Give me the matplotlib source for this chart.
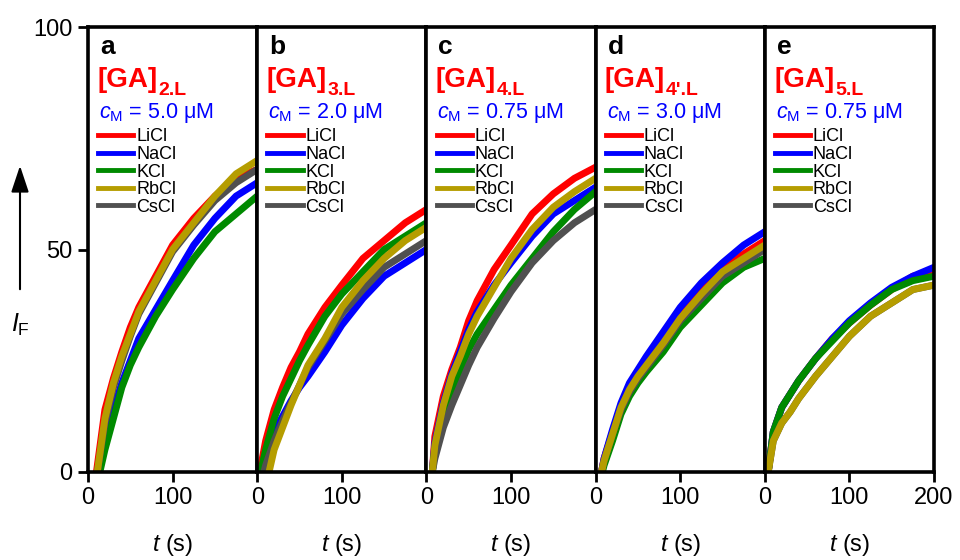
import matplotlib
import numpy as np

matplotlib.use("Agg")
import matplotlib.pyplot as plt
from matplotlib.patches import FancyArrowPatch

plt.rcParams["font.family"] = ["Liberation Sans", "DejaVu Sans"]
plt.rcParams["mathtext.fontset"] = "custom"
plt.rcParams["mathtext.rm"] = "Liberation Sans"
plt.rcParams["mathtext.it"] = "Liberation Sans:italic"
plt.rcParams["mathtext.bf"] = "Liberation Sans:bold"

SALTS = ["LiCl", "NaCl", "KCl", "RbCl", "CsCl"]
COLORS = {"LiCl": "#ff0000", "NaCl": "#0000ff", "KCl": "#008a00",
          "RbCl": "#b59d00", "CsCl": "#505050"}
PANEL_LETTERS = ["a", "b", "c", "d", "e"]
LIGANDS = ["2.L", "3.L", "4.L", "4'.L", "5.L"]
CONC = ["5.0", "2.0", "0.75", "3.0", "0.75"]

T_GRID = [10, 20, 30, 40, 50, 60, 80, 100, 125, 150, 175, 200]

# time where each trace leaves zero, per panel and salt
T_START = [
    {"LiCl": 10, "NaCl": 13, "KCl": 14, "RbCl": 11, "CsCl": 11},
    {"LiCl": 3, "NaCl": 5, "KCl": 4, "RbCl": 14, "CsCl": 8},
    {"LiCl": 7, "NaCl": 7, "KCl": 7, "RbCl": 7, "CsCl": 7},
    {"LiCl": 7, "NaCl": 7, "KCl": 8, "RbCl": 7, "CsCl": 7},
    {"LiCl": 4, "NaCl": 4, "KCl": 4, "RbCl": 4, "CsCl": 4},
]
# signal read at T_GRID (None = before the trace starts)
VALUES = [
    {
        "LiCl": [None, 14, 21, 27, 32.5, 37, 44, 51, 57, 62, 66, 68],
        "NaCl": [None, 7, 14, 20, 25, 30, 36.5, 43, 51, 57, 62, 65],
        "KCl": [None, 5, 12, 19, 24, 28, 35, 41, 48, 54, 58, 62],
        "RbCl": [None, 12, 20, 26, 31, 36, 43, 50, 56, 62, 67, 70],
        "CsCl": [None, 11, 19, 25, 30.5, 35.5, 42.5, 49.5, 55.5, 61, 65, 68],
    },
    {
        "LiCl": [7, 14, 19, 23.5, 27, 31, 37, 42, 48, 52, 56, 59],
        "NaCl": [3.5, 9, 12.5, 16, 19, 21.5, 27, 33, 39, 44, 47, 50],
        "KCl": [5, 12, 17, 21, 25, 28.5, 35, 40, 45, 50, 53, 56],
        "RbCl": [None, 5, 10, 15, 19.5, 24, 30, 37, 43, 48, 52, 55],
        "CsCl": [1.5, 7, 11.5, 15.5, 19.5, 23.5, 29.5, 35.5, 41, 46, 49, 52],
    },
    {
        "LiCl": [8, 17, 23, 28, 34, 38.5, 45.5, 51, 58, 62.5, 66, 68.5],
        "NaCl": [6.5, 15.5, 22, 27, 32, 36, 42, 47, 53, 58, 61, 64],
        "KCl": [5, 12.5, 18.5, 23, 27.5, 31, 36.5, 42, 48, 54, 59, 63],
        "RbCl": [6, 15, 21.5, 26, 31, 35, 41.5, 48, 54.5, 59.5, 63, 66],
        "CsCl": [3, 10, 15, 19.5, 24, 28, 34.5, 40.5, 47, 52, 56, 59],
    },
    {
        "LiCl": [3, 9, 15, 19, 22, 24.5, 30, 35.5, 41, 46, 49, 52],
        "NaCl": [3, 9.5, 15.5, 20, 23, 26, 31.5, 37, 42.5, 47, 51, 54],
        "KCl": [1.5, 7, 13, 17, 20, 22.5, 27, 32.5, 37.5, 42.5, 46, 48],
        "RbCl": [2.5, 8.5, 14.5, 18.5, 21.5, 24, 29, 34.5, 40, 45, 48, 51],
        "CsCl": [2.5, 8.5, 14, 18, 21, 23.5, 28.5, 34, 39, 44, 47, 50],
    },
    {
        "LiCl": [9, 14.5, 17.5, 20.5, 23, 25.5, 30, 33.5, 37.5, 41, 44, 45],
        "NaCl": [9, 14.5, 17.5, 20.5, 23, 25.5, 30, 34, 38, 41.5, 44, 46],
        "KCl": [9, 14.5, 17.5, 20.5, 23, 25.5, 29.5, 33.5, 37.5, 41, 43, 44],
        "RbCl": [7, 11, 13.5, 16.5, 19, 21.5, 26, 30.5, 35, 38, 41, 42],
        "CsCl": [7, 11, 13.5, 16.5, 19, 21.5, 26, 30.5, 35, 38, 41, 42],
    },
]

DRAW_ORDER = ["LiCl", "NaCl", "KCl", "CsCl", "RbCl"]

fig = plt.figure(figsize=(9.6, 5.6), dpi=100, facecolor="white")
left0 = 88 / 960
width = 169.2 / 960
bottom = 1 - 472 / 560
height = 445 / 560

for i in range(5):
    ax = fig.add_axes([left0 + i * width, bottom, width, height])
    handles = {}
    for salt in DRAW_ORDER:
        pairs = [(t, v) for t, v in zip(T_GRID, VALUES[i][salt]) if v is not None]
        t = [T_START[i][salt]] + [p[0] for p in pairs]
        y = [0] + [p[1] for p in pairs]
        (line,) = ax.plot(t, y, color=COLORS[salt], lw=5, solid_joinstyle="round")
        handles[salt] = line
    ax.set_xlim(0, 200)
    ax.set_ylim(0, 100)
    for sp in ax.spines.values():
        sp.set_linewidth(2.6)
    ax.tick_params(width=2, length=7, labelsize=17, direction="out", pad=4)
    if i == 4:
        ax.set_xticks([0, 100, 200])
    else:
        ax.set_xticks([0, 100])
    if i == 0:
        ax.set_yticks([0, 50, 100])
    else:
        ax.set_yticks([])
    ax.set_xlabel(r"$t$ (s)", fontsize=17, labelpad=16)

    ax.text(0.07, 0.955, PANEL_LETTERS[i], transform=ax.transAxes, fontsize=19,
            fontweight="bold", va="center", ha="left")
    main = ax.text(0.055, 0.866, "[GA]", transform=ax.transAxes, fontsize=20,
                   color="#ff0000", fontweight="bold", va="baseline", ha="left")
    ax.annotate(LIGANDS[i], xy=(1.0, 0.0), xycoords=main, xytext=(0.5, -1.5),
                textcoords="offset points", fontsize=14, color="#ff0000",
                fontweight="bold", va="baseline", ha="left")
    ax.text(0.065, 0.806, r"$c_{\mathrm{M}}$ = %s μM" % CONC[i], transform=ax.transAxes,
            fontsize=15.5, color="#0000ff", va="center", ha="left")
    leg = ax.legend([handles[s] for s in SALTS], SALTS, loc="upper left",
                    bbox_to_anchor=(0.06, 0.772), frameon=False, fontsize=13,
                    handlelength=1.95, handletextpad=0.15, labelspacing=0.03,
                    borderpad=0, borderaxespad=0)
    for ln in leg.get_lines():
        ln.set_linewidth(3.5)

fig.text(20 / 960, 1 - 325 / 560, r"$I_{\mathrm{F}}$", fontsize=18, ha="center", va="center")
fig.patches.append(FancyArrowPatch(
    (20 / 960, 1 - 292 / 560), (20 / 960, 1 - 163 / 560), transform=fig.transFigure,
    arrowstyle="-|>,head_length=0.9,head_width=0.3", color="black", lw=1.5,
    mutation_scale=18))

fig.savefig("out.png", dpi=100, facecolor="white")
